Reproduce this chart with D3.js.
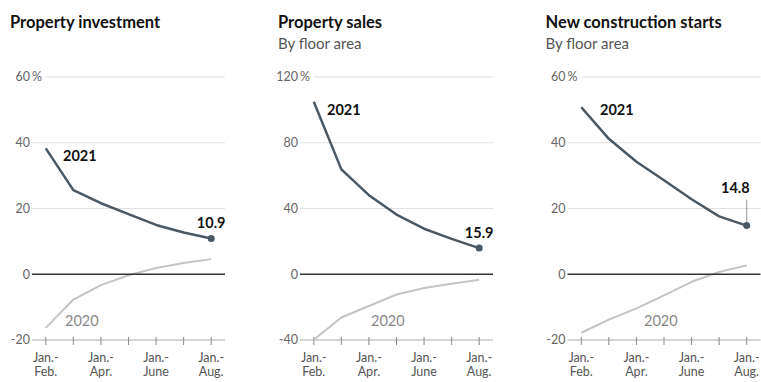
<!DOCTYPE html>
<html>
<head>
<meta charset="utf-8">
<script src="https://cdn.jsdelivr.net/npm/d3@7"></script>
<style>
  body { margin: 0; background: #fff; }
  svg { display: block; font-family: Lato, "Noto Sans", sans-serif; }
</style>
</head>
<body>
<svg id="chart" width="761" height="382"></svg>
<script>
// months on the x axis (cumulative Jan.- periods)
var months = ["Feb", "Mar", "Apr", "May", "Jun", "Jul", "Aug"];
var monthLabels = { Feb: ["Jan.-", "Feb."], Apr: ["Jan.-", "Apr."], Jun: ["Jan.-", "June"], Aug: ["Jan.-", "Aug."] };

// series, % change y/y
var investment2021 = [38.3, 25.6, 21.6, 18.3, 15.0, 12.7, 10.9];
var investment2020 = [-16.3, -7.7, -3.3, -0.3, 1.9, 3.4, 4.6];
var sales2021 = [104.9, 63.8, 48.1, 36.3, 27.7, 21.5, 15.9];
var sales2020 = [-39.9, -26.3, -19.3, -12.3, -8.4, -5.8, -3.3];
var starts2021 = [50.8, 41.2, 34.2, 28.6, 22.8, 17.6, 14.8];
var starts2020 = [-17.8, -13.8, -10.4, -6.4, -2.3, 0.7, 2.7];

// y axis ticks per panel
var investmentTicks = [-20, 0, 20, 40, 60];
var salesTicks = [-40, 0, 40, 80, 120];
var startsTicks = [-20, 0, 20, 40, 60];

var panels = [
  { title: "Property investment", subtitle: null, left: 32, cur: investment2021, prev: investment2020, ticks: investmentTicks,
    lab21: [63, 161], lab20: [65, 326], endLabel: "10.9", leader: false },
  { title: "Property sales", subtitle: "By floor area", left: 300, cur: sales2021, prev: sales2020, ticks: salesTicks,
    lab21: [327, 115], lab20: [371, 326], endLabel: "15.9", leader: false },
  { title: "New construction starts", subtitle: "By floor area", left: 567.5, cur: starts2021, prev: starts2020, ticks: startsTicks,
    lab21: [600, 115], lab20: [644, 326], endLabel: "14.8", leader: true }
];

var svg = d3.select("#chart");
var plotW = 193, yTop = 77, yBottom = 340;
var dark = "#4a5864", light = "#c4c4c4";

panels.forEach(function(p) {
  var g = svg.append("g");
  var x = d3.scalePoint().domain(months).range([p.left, p.left + plotW]).padding(0.5);
  var y = d3.scaleLinear().domain([p.ticks[0], p.ticks[p.ticks.length - 1]]).range([yBottom, yTop]);

  // titles
  g.append("text").attr("x", p.left - 22).attr("y", 28)
    .attr("font-size", 16.5).attr("font-weight", 700).attr("fill", "#111").text(p.title);
  if (p.subtitle) {
    g.append("text").attr("x", p.left - 22).attr("y", 49)
      .attr("font-size", 15).attr("fill", "#555").text(p.subtitle);
  }

  // y tick labels + gridlines
  p.ticks.forEach(function(t, i) {
    g.append("text").attr("x", p.left - 2).attr("y", y(t)).attr("dy", "0.35em")
      .attr("text-anchor", "end").attr("font-size", 12.5).attr("fill", "#666").text(t);
    var x1 = p.left;
    if (i === p.ticks.length - 1) {
      var pct = g.append("text").attr("x", p.left).attr("y", y(t)).attr("dy", "0.35em")
        .attr("font-size", 12.5).attr("fill", "#666").text("%");
      x1 = p.left + pct.node().getComputedTextLength() + 4;
    }
    if (t === 0 || i === 0) return;
    g.append("line").attr("x1", x1).attr("x2", p.left + plotW)
      .attr("y1", y(t)).attr("y2", y(t)).attr("stroke", "#e0e0e0").attr("stroke-width", 1);
  });

  // bottom axis
  var yMin = y(p.ticks[0]);
  g.append("line").attr("x1", p.left).attr("x2", p.left + plotW)
    .attr("y1", yMin).attr("y2", yMin).attr("stroke", "#aaa").attr("stroke-width", 1);
  g.selectAll(".tick").data(months).enter().append("line")
    .attr("x1", function(d) { return x(d); }).attr("x2", function(d) { return x(d); })
    .attr("y1", yMin - 3).attr("y2", yMin + 5)
    .attr("stroke", "#888").attr("stroke-width", 1);
  months.forEach(function(m) {
    if (!monthLabels[m]) return;
    g.append("text").attr("x", x(m)).attr("y", 362).attr("text-anchor", "middle")
      .attr("font-size", 12.5).attr("fill", "#555").text(monthLabels[m][0]);
    g.append("text").attr("x", x(m)).attr("y", 376).attr("text-anchor", "middle")
      .attr("font-size", 12.5).attr("fill", "#555").text(monthLabels[m][1]);
  });

  var line = d3.line()
    .x(function(d, i) { return x(months[i]); })
    .y(function(d) { return y(d); });

  g.append("path").datum(p.prev).attr("d", line)
    .attr("fill", "none").attr("stroke", light).attr("stroke-width", 2).attr("stroke-linejoin", "round");

  // zero line
  g.append("line").attr("x1", p.left).attr("x2", p.left + plotW)
    .attr("y1", y(0)).attr("y2", y(0)).attr("stroke", "#333").attr("stroke-width", 1.5);

  g.append("path").datum(p.cur).attr("d", line)
    .attr("fill", "none").attr("stroke", dark).attr("stroke-width", 2.5).attr("stroke-linejoin", "round");

  var last = p.cur[p.cur.length - 1];
  var lx = x(months[months.length - 1]), ly = y(last);
  if (p.leader) {
    g.append("line").attr("x1", lx).attr("x2", lx).attr("y1", ly - 26).attr("y2", ly - 3)
      .attr("stroke", "#999").attr("stroke-width", 1);
    g.append("text").attr("x", lx + 3).attr("y", ly - 33).attr("text-anchor", "end")
      .attr("font-size", 14.5).attr("font-weight", 700).attr("fill", "#111").text(p.endLabel);
  } else {
    g.append("text").attr("x", lx).attr("y", ly - 10).attr("text-anchor", "middle")
      .attr("font-size", 14.5).attr("font-weight", 700).attr("fill", "#111").text(p.endLabel);
  }
  g.append("circle").attr("cx", lx).attr("cy", ly).attr("r", 3.5).attr("fill", dark);

  g.append("text").attr("x", p.lab21[0]).attr("y", p.lab21[1])
    .attr("font-size", 14.5).attr("font-weight", 700).attr("fill", "#111").text("2021");
  g.append("text").attr("x", p.lab20[0]).attr("y", p.lab20[1])
    .attr("font-size", 14.5).attr("fill", "#888").text("2020");
});
</script>
</body>
</html>
